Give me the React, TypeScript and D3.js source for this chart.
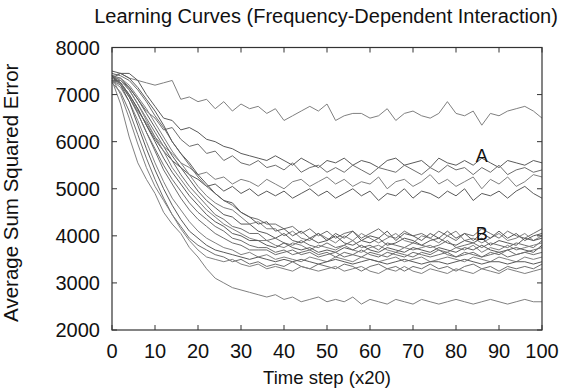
import React from 'react';
import * as d3 from 'd3';

// time steps sampled every 2 (x20)
const steps = d3.range(0, 101, 2);

const topCurve = [7400, 7450, 7350, 7300, 7250, 7200, 7250, 7300, 6900, 6950, 6850, 6900, 6700, 6850, 6650, 6800, 6700, 6750, 6600, 6700, 6450, 6550, 6650, 6750, 6650, 6800, 6450, 6550, 6600, 6600, 6500, 6550, 6700, 6450, 6600, 6650, 6550, 6500, 6600, 6850, 6600, 6550, 6650, 6350, 6600, 6550, 6650, 6700, 6750, 6650, 6500];

const curveA1 = [7350, 7450, 7450, 7300, 7000, 6750, 6500, 6450, 6250, 6300, 6200, 6050, 6000, 5900, 5850, 5750, 5700, 5650, 5600, 5700, 5600, 5500, 5650, 5550, 5450, 5600, 5550, 5650, 5500, 5600, 5550, 5450, 5600, 5650, 5500, 5550, 5600, 5450, 5650, 5550, 5500, 5600, 5500, 5650, 5550, 5450, 5600, 5550, 5500, 5600, 5550];
const curveA2 = [7400, 7350, 7150, 6900, 6650, 6500, 6250, 6300, 6050, 5900, 5950, 5750, 5800, 5600, 5700, 5550, 5500, 5600, 5450, 5500, 5400, 5550, 5350, 5450, 5500, 5350, 5450, 5350, 5500, 5400, 5300, 5450, 5400, 5350, 5500, 5400, 5300, 5450, 5350, 5500, 5400, 5450, 5300, 5450, 5350, 5500, 5300, 5400, 5450, 5350, 5400];
const curveA3 = [7300, 7200, 6950, 6650, 6400, 6100, 5900, 5750, 5550, 5450, 5300, 5350, 5200, 5250, 5100, 5200, 5150, 5050, 5200, 5100, 5000, 5150, 5200, 5050, 5150, 5250, 5100, 5200, 5050, 5150, 5100, 5250, 5000, 5150, 5200, 5050, 5150, 5300, 5100, 5200, 5050, 5150, 5250, 5000, 5200, 5100, 5250, 5050, 5150, 5300, 5250];
const curveA4 = [7400, 7250, 7000, 6700, 6350, 6050, 5800, 5600, 5450, 5300, 5200, 5050, 5100, 4950, 5050, 4900, 5000, 4850, 4950, 4850, 4950, 4800, 4900, 5000, 4850, 4950, 4800, 4900, 5000, 4850, 4950, 4750, 4900, 4850, 5000, 4800, 4950, 4900, 4800, 4950, 4850, 5000, 4750, 4900, 4850, 4950, 4800, 4950, 5050, 4900, 4800];

const curveB1 = [7450, 7400, 7300, 7100, 6850, 6550, 6300, 6000, 5750, 5500, 5250, 5050, 4900, 4750, 4650, 4500, 4400, 4350, 4250, 4250, 4150, 4200, 4050, 4150, 4000, 4100, 3950, 4050, 4100, 3950, 4050, 4150, 4000, 3950, 4100, 4000, 4050, 3950, 4100, 4000, 3900, 4050, 4000, 4150, 4050, 3950, 4100, 4000, 3950, 4050, 4150];
const curveB2 = [7350, 7350, 7200, 6950, 6700, 6400, 6100, 5800, 5550, 5300, 5050, 4850, 4700, 4600, 4550, 4400, 4250, 4300, 4150, 4150, 4000, 4100, 3950, 3900, 4050, 3950, 3850, 4000, 3900, 4050, 3950, 3850, 3950, 4050, 3900, 3850, 4000, 3950, 3850, 4000, 4100, 3900, 3950, 3850, 3950, 4050, 3900, 3950, 4050, 3900, 4000];
const curveB3 = [7300, 7300, 7150, 6900, 6600, 6300, 6000, 5700, 5450, 5200, 4950, 4750, 4600, 4450, 4400, 4250, 4250, 4100, 4050, 3950, 4050, 3900, 3850, 3950, 3850, 3900, 4000, 3850, 3800, 3900, 3850, 3950, 3800, 3850, 3950, 3900, 3800, 3900, 3950, 3850, 3800, 3900, 3850, 3950, 3800, 3900, 3850, 3800, 3950, 3900, 3950];
const curveB4 = [7400, 7300, 7100, 6800, 6500, 6200, 5900, 5600, 5300, 5050, 4850, 4650, 4450, 4350, 4200, 4150, 4050, 4050, 3900, 3950, 3850, 3800, 3900, 3800, 3750, 3850, 3750, 3800, 3900, 3750, 3800, 3700, 3850, 3800, 3750, 3850, 3800, 3750, 3800, 3900, 3750, 3800, 3850, 3750, 3850, 3800, 3750, 3850, 3800, 3750, 3900];
const curveB5 = [7250, 7300, 7100, 6800, 6450, 6100, 5800, 5450, 5200, 4950, 4750, 4550, 4400, 4250, 4150, 4050, 3950, 3900, 3900, 3800, 3750, 3850, 3800, 3700, 3800, 3750, 3700, 3800, 3700, 3650, 3750, 3800, 3700, 3650, 3750, 3700, 3750, 3800, 3700, 3650, 3750, 3700, 3800, 3650, 3750, 3700, 3800, 3700, 3750, 3800, 3850];
const curveB6 = [7350, 7250, 7000, 6700, 6350, 6000, 5650, 5350, 5100, 4850, 4650, 4450, 4300, 4200, 4050, 4000, 3900, 3900, 3800, 3750, 3850, 3750, 3700, 3750, 3650, 3700, 3650, 3750, 3700, 3800, 3700, 3650, 3750, 3700, 3650, 3750, 3700, 3650, 3750, 3700, 3650, 3750, 3700, 3800, 3700, 3650, 3700, 3750, 3700, 3650, 3800];
const curveB7 = [7400, 7250, 6950, 6600, 6200, 5850, 5500, 5200, 4950, 4700, 4500, 4350, 4200, 4100, 3950, 3900, 3800, 3750, 3750, 3650, 3700, 3600, 3650, 3700, 3600, 3650, 3550, 3650, 3600, 3550, 3650, 3600, 3550, 3650, 3600, 3550, 3650, 3600, 3700, 3600, 3550, 3650, 3600, 3550, 3650, 3600, 3700, 3600, 3650, 3700, 3750];
const curveB8 = [7300, 7150, 6850, 6450, 6000, 5550, 5150, 4800, 4550, 4300, 4100, 3950, 3850, 3750, 3700, 3600, 3650, 3550, 3600, 3500, 3550, 3500, 3450, 3550, 3500, 3450, 3550, 3500, 3450, 3550, 3500, 3450, 3500, 3550, 3450, 3500, 3550, 3450, 3500, 3550, 3500, 3450, 3550, 3500, 3450, 3550, 3500, 3450, 3550, 3500, 3550];
const curveB9 = [7400, 7200, 6850, 6350, 5850, 5400, 5000, 4650, 4350, 4100, 3950, 3800, 3700, 3650, 3600, 3550, 3500, 3550, 3500, 3450, 3500, 3450, 3500, 3450, 3400, 3450, 3500, 3450, 3400, 3450, 3500, 3450, 3400, 3450, 3500, 3450, 3400, 3450, 3450, 3400, 3450, 3500, 3450, 3400, 3450, 3450, 3400, 3450, 3450, 3400, 3450];
const curveB10 = [7250, 7050, 6650, 6150, 5650, 5200, 4800, 4450, 4200, 3950, 3800, 3700, 3600, 3550, 3450, 3500, 3400, 3450, 3350, 3400, 3350, 3450, 3350, 3300, 3400, 3350, 3300, 3400, 3350, 3250, 3350, 3400, 3300, 3350, 3250, 3350, 3300, 3400, 3300, 3350, 3250, 3350, 3400, 3300, 3350, 3250, 3350, 3300, 3350, 3300, 3400];
const curveB11 = [7350, 7000, 6500, 5950, 5450, 5050, 4750, 4450, 4150, 3900, 3700, 3550, 3500, 3450, 3500, 3400, 3350, 3400, 3300, 3350, 3300, 3250, 3350, 3300, 3250, 3300, 3350, 3250, 3300, 3350, 3250, 3200, 3300, 3250, 3350, 3250, 3200, 3300, 3250, 3200, 3300, 3250, 3200, 3300, 3250, 3200, 3300, 3250, 3200, 3250, 3300];
const curveB12 = [7500, 7450, 7350, 7150, 6900, 6650, 6350, 6000, 5750, 5550, 5300, 5100, 4900, 4750, 4700, 4500, 4400, 4250, 4300, 4100, 4150, 4000, 4100, 3950, 4050, 3900, 4050, 3950, 4100, 3900, 4000, 3950, 4100, 3900, 4050, 4000, 3900, 4050, 3950, 4100, 3950, 4050, 3900, 4050, 3950, 4100, 3950, 4050, 3900, 4000, 4050];
const curveB13 = [7300, 7250, 6950, 6600, 6200, 5800, 5400, 5100, 4800, 4550, 4350, 4200, 4050, 3950, 3850, 3800, 3700, 3700, 3700, 3600, 3650, 3700, 3600, 3650, 3550, 3600, 3650, 3550, 3600, 3700, 3600, 3550, 3650, 3600, 3550, 3650, 3600, 3550, 3600, 3650, 3550, 3600, 3650, 3550, 3600, 3650, 3550, 3600, 3650, 3600, 3650];

const bottomCurve = [7300, 6800, 6100, 5550, 5200, 4900, 4500, 4250, 4050, 3750, 3550, 3300, 3100, 3000, 2900, 2850, 2800, 2750, 2700, 2750, 2650, 2700, 2600, 2650, 2700, 2600, 2650, 2600, 2700, 2550, 2650, 2600, 2550, 2650, 2600, 2550, 2650, 2600, 2550, 2600, 2650, 2600, 2550, 2600, 2650, 2600, 2550, 2600, 2650, 2600, 2600];

const allCurves = [
  topCurve, curveA1, curveA2, curveA3, curveA4,
  curveB1, curveB2, curveB3, curveB4, curveB5, curveB6, curveB7,
  curveB8, curveB9, curveB10, curveB11, curveB12, curveB13, bottomCurve,
];

const xTicks = [0, 10, 20, 30, 40, 50, 60, 70, 80, 90, 100];
const yTicks = [2000, 3000, 4000, 5000, 6000, 7000, 8000];

const labels = [
  { text: 'A', step: 86, value: 5700 },
  { text: 'B', step: 86, value: 4050 },
];

export default function App() {
  const width = 561;
  const height = 392;
  const margin = { top: 47.5, right: 19, bottom: 62, left: 112 };
  const plotW = width - margin.left - margin.right;
  const plotH = height - margin.top - margin.bottom;

  const x = d3.scaleLinear().domain([0, 100]).range([0, plotW]);
  const y = d3.scaleLinear().domain([2000, 8000]).range([plotH, 0]);

  const line = d3.line<number>()
    .x((_, i) => x(steps[i]))
    .y(d => y(d));

  const font = '"Liberation Sans", Arial, Helvetica, sans-serif';
  const tickLen = 5;

  return (
    <svg width={width} height={height} style={{ position: 'absolute', left: 0, top: 0, background: '#fff' }}
      fontFamily={font}>
      <text x={326} y={22.5} textAnchor="middle" fontSize={20} fill="#111">
        Learning Curves (Frequency-Dependent Interaction)
      </text>
      <g transform={`translate(${margin.left},${margin.top})`}>
        {allCurves.map((c, i) => (
          <path key={i} d={line(c) || ''} fill="none"
            stroke={i % 3 === 0 ? '#808080' : i % 3 === 1 ? '#5a5a5a' : '#6e6e6e'}
            strokeWidth={1} />
        ))}

        {/* frame */}
        <rect x={0} y={0} width={plotW} height={plotH} fill="none" stroke="#333" strokeWidth={1.2} />

        {/* ticks, mirrored inside the frame */}
        {xTicks.map(t => (
          <g key={'x' + t}>
            <line x1={x(t)} x2={x(t)} y1={plotH} y2={plotH - tickLen} stroke="#333" />
            <line x1={x(t)} x2={x(t)} y1={0} y2={tickLen} stroke="#333" />
            <text x={x(t)} y={plotH + 28} textAnchor="middle" fontSize={20} fill="#111">{t}</text>
          </g>
        ))}
        {yTicks.map(t => (
          <g key={'y' + t}>
            <line x1={0} x2={tickLen} y1={y(t)} y2={y(t)} stroke="#333" />
            <line x1={plotW} x2={plotW - tickLen} y1={y(t)} y2={y(t)} stroke="#333" />
            <text x={-12} y={y(t) + 7} textAnchor="end" fontSize={20} fill="#111">{t}</text>
          </g>
        ))}

        {labels.map(l => (
          <text key={l.text} x={x(l.step)} y={y(l.value) + 6.5} textAnchor="middle" fontSize={18} fill="#111">
            {l.text}
          </text>
        ))}

        <text x={plotW / 2} y={plotH + 54} textAnchor="middle" fontSize={18.5} fill="#111">Time step (x20)</text>
        <text transform={`translate(${-94},${plotH / 2 + 4}) rotate(-90)`} textAnchor="middle" fontSize={20.5} fill="#111">
          Average Sum Squared Error
        </text>
      </g>
    </svg>
  );
}
